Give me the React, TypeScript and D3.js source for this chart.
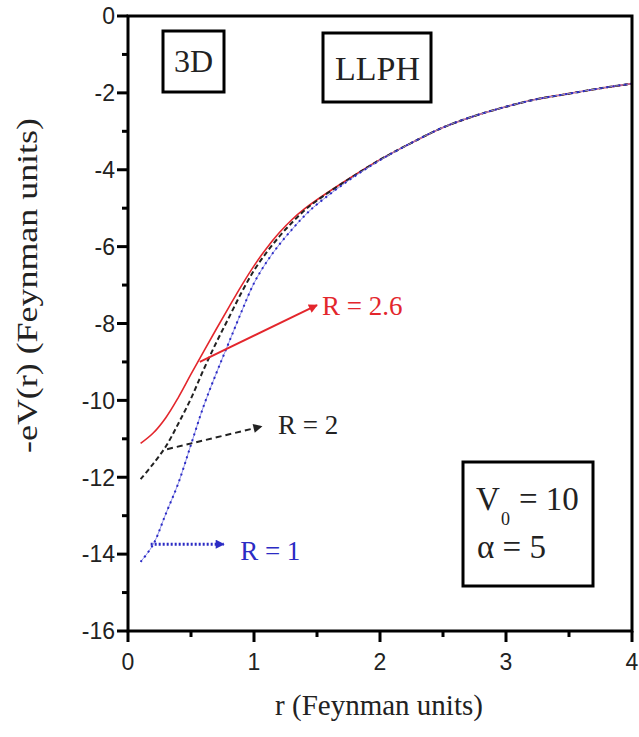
import React from "react";
import * as d3 from "d3";

const rValues = [0.1, 0.2, 0.3, 0.4, 0.5, 0.6, 0.7, 0.8, 0.9, 1.0, 1.1, 1.2, 1.3, 1.4, 1.5, 1.75, 2.0, 2.25, 2.5, 2.75, 3.0, 3.25, 3.5, 3.75, 4.0];
const redR26 = [-11.12, -10.85, -10.45, -9.92, -9.32, -8.73, -8.15, -7.58, -7.02, -6.5, -6.04, -5.64, -5.3, -5.02, -4.78, -4.24, -3.74, -3.3, -2.9, -2.6, -2.36, -2.16, -2.02, -1.88, -1.76];
const blackR2 = [-12.05, -11.65, -11.2, -10.6, -9.95, -9.2, -8.5, -7.85, -7.2, -6.62, -6.15, -5.74, -5.38, -5.06, -4.8, -4.25, -3.74, -3.3, -2.9, -2.6, -2.36, -2.16, -2.02, -1.88, -1.76];
const blueR1 = [-14.2, -13.75, -12.95, -12.15, -11.15, -10.15, -9.3, -8.5, -7.7, -6.95, -6.4, -5.95, -5.56, -5.2, -4.9, -4.28, -3.75, -3.3, -2.9, -2.6, -2.36, -2.16, -2.02, -1.88, -1.76];

const xMajorTicks = [0, 1, 2, 3, 4];
const xMinorTicks = [0.5, 1.5, 2.5, 3.5];
const yMajorTicks = [0, -2, -4, -6, -8, -10, -12, -14, -16];
const yMinorTicks = [-1, -3, -5, -7, -9, -11, -13, -15];

const RED = "#e3262c";
const BLACK = "#222222";
const BLUE = "#2b2bc4";

const SERIF = "'Liberation Serif', 'Times New Roman', serif";
const SANS = "'Liberation Sans', Arial, sans-serif";

export default function App() {
  const x = d3.scaleLinear().domain([0, 4]).range([128, 632]);
  const y = d3.scaleLinear().domain([-16, 0]).range([631, 16]);

  const line = d3
    .line<number>()
    .x((_, i) => x(rValues[i]))
    .y((d) => y(d))
    .curve(d3.curveCatmullRom.alpha(0.5));

  const arrows = [
    { id: "red", color: RED, from: [0.57, -9.0], to: [1.5, -7.52], dash: undefined as string | undefined, width: 2 },
    { id: "black", color: BLACK, from: [0.31, -11.27], to: [1.06, -10.68], dash: "6,4", width: 2 },
    { id: "blue", color: BLUE, from: [0.18, -13.74], to: [0.76, -13.74], dash: "2,2", width: 3 },
  ];

  const labels = [
    { text: "R = 2.6", color: RED, at: [1.54, -7.77] },
    { text: "R = 2", color: BLACK, at: [1.19, -10.88] },
    { text: "R = 1", color: BLUE, at: [0.89, -14.16] },
  ];

  return (
    <svg
      width={639}
      height={737}
      style={{ position: "absolute", left: 0, top: 0, background: "#fff" }}
    >
      <defs>
        {arrows.map((a) => (
          <marker
            key={a.id}
            id={`head-${a.id}`}
            viewBox="0 0 10 10"
            refX={9}
            refY={5}
            markerWidth={12}
            markerHeight={9}
            markerUnits="userSpaceOnUse"
            orient="auto"
          >
            <path d="M0,0 L10,5 L0,10 Z" fill={a.color} />
          </marker>
        ))}
      </defs>

      {/* curves */}
      <path d={line(redR26) || ""} fill="none" stroke={RED} strokeWidth={1.6} />
      <path d={line(blackR2) || ""} fill="none" stroke={BLACK} strokeWidth={2} strokeDasharray="5,3" />
      <path d={line(blueR1) || ""} fill="none" stroke="#8f8fe8" strokeWidth={1} />
      <path d={line(blueR1) || ""} fill="none" stroke={BLUE} strokeWidth={2} strokeDasharray="2,4" />

      {/* arrows */}
      {arrows.map((a) => (
        <line
          key={a.id}
          x1={x(a.from[0])}
          y1={y(a.from[1])}
          x2={x(a.to[0])}
          y2={y(a.to[1])}
          stroke={a.color}
          strokeWidth={a.width}
          strokeDasharray={a.dash}
          markerEnd={`url(#head-${a.id})`}
        />
      ))}
      {labels.map((l) => (
        <text key={l.text} x={x(l.at[0])} y={y(l.at[1])} fill={l.color} fontFamily={SERIF} fontSize={27}>
          {l.text}
        </text>
      ))}

      {/* frame */}
      <rect x={x(0)} y={y(0)} width={x(4) - x(0)} height={y(-16) - y(0)} fill="none" stroke="#000" strokeWidth={3} />

      {/* x ticks */}
      {xMajorTicks.map((t) => (
        <g key={`xm${t}`}>
          <line x1={x(t)} x2={x(t)} y1={y(-16)} y2={y(-16) + 11} stroke="#000" strokeWidth={3} />
          <text x={x(t)} y={670} textAnchor="middle" fontFamily={SANS} fontSize={23} fill="#222">
            {String(t)}
          </text>
        </g>
      ))}
      {xMinorTicks.map((t) => (
        <line key={`xn${t}`} x1={x(t)} x2={x(t)} y1={y(-16)} y2={y(-16) + 6} stroke="#000" strokeWidth={3} />
      ))}

      {/* y ticks */}
      {yMajorTicks.map((t) => (
        <g key={`ym${t}`}>
          <line x1={x(0) - 11} x2={x(0)} y1={y(t)} y2={y(t)} stroke="#000" strokeWidth={3} />
          <text x={115} y={y(t)} dy="0.36em" textAnchor="end" fontFamily={SANS} fontSize={23} fill="#222">
            {String(t)}
          </text>
        </g>
      ))}
      {yMinorTicks.map((t) => (
        <line key={`yn${t}`} x1={x(0) - 6} x2={x(0)} y1={y(t)} y2={y(t)} stroke="#000" strokeWidth={3} />
      ))}

      {/* axis titles */}
      <text x={379} y={715} textAnchor="middle" fontFamily={SERIF} fontSize={29} fill="#222">
        r (Feynman units)
      </text>
      <text
        transform="translate(37,285.5) rotate(-90)"
        textAnchor="middle"
        fontFamily={SERIF}
        fontSize={30}
        fill="#222"
        textLength={335}
        lengthAdjust="spacingAndGlyphs"
      >
        -eV(r) (Feynman units)
      </text>

      {/* boxes */}
      <rect x={163} y={31} width={61} height={61} fill="#fff" stroke="#000" strokeWidth={3} />
      <text x={193.5} y={72} textAnchor="middle" fontFamily={SERIF} fontSize={32} fill="#222">
        3D
      </text>
      <rect x={323} y={33} width={108} height={69} fill="#fff" stroke="#000" strokeWidth={3} />
      <text x={377.5} y={80} textAnchor="middle" fontFamily={SERIF} fontSize={34} fill="#222">
        LLPH
      </text>
      <rect x={463} y={462} width={130} height={124} fill="#fff" stroke="#000" strokeWidth={3} />
      <text x={476} y={510} fontFamily={SERIF} fontSize={33} fill="#222">
        V
      </text>
      <text x={501} y={525} fontFamily={SERIF} fontSize={18} fill="#222">
        0
      </text>
      <text x={519} y={510} fontFamily={SERIF} fontSize={33} fill="#222">
        = 10
      </text>
      <text x={477} y={558} fontFamily={SERIF} fontSize={33} fill="#222">
        α = 5
      </text>
    </svg>
  );
}
